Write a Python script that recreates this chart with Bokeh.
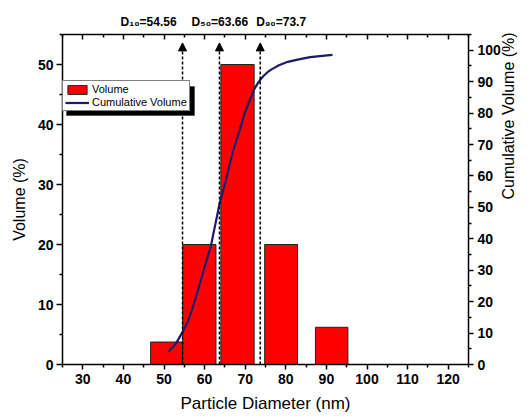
import math
from bokeh.plotting import figure
from bokeh.layouts import column
from bokeh.models import (Range1d, LinearAxis, FixedTicker, ColumnDataSource, Arrow,
                          NormalHead, Legend, LegendItem, BoxAnnotation)
from bokeh.core.properties import value
from bokeh.embed import file_html
from bokeh.resources import INLINE

# ---- data ----
diameter_lo = [46.7, 54.6, 64.0, 74.8, 87.3]
diameter_hi = [54.6, 62.8, 72.2, 82.9, 95.3]
volume = [3.75, 20.0, 50.0, 20.0, 6.2]

cum_x = [51, 52, 53, 54.56, 56, 58, 60, 61.6, 63.66, 65.5, 67, 68.5, 70, 72.2, 73.0,
         73.7, 74.5, 75.5, 76.5, 78.3, 80.5, 83.2, 86, 89, 91.5]
cum_y = [4, 5.3, 6.8, 10.3, 14, 22, 31, 38, 51, 60, 68, 74, 80.5, 87.5, 89.3,
         90.6, 91.8, 93.0, 93.9, 95.2, 96.3, 97.1, 97.8, 98.2, 98.5]

d_names = ["D\u2081\u2080=54.56", "D\u2085\u2080=63.66", "D\u2089\u2080=73.7"]
d_values = [54.56, 63.66, 73.7]

x_ticks = [30, 40, 50, 60, 70, 80, 90, 100, 110, 120]
y_ticks = [0, 10, 20, 30, 40, 50]
cum_ticks = [0, 10, 20, 30, 40, 50, 60, 70, 80, 90, 100]

FONT = "Liberation Sans"
X0, X1 = 25, 125
Y0, Y1 = 0, 55
C0, C1 = 0, 105
BL, BR = 62, 57          # left / right borders shared by both figures

# ---- strip above the plot holding the D-value labels ----
ptop = figure(width=528, height=30, output_backend="svg", toolbar_location=None,
              x_range=Range1d(X0, X1), y_range=Range1d(0, 30),
              min_border_left=BL, min_border_right=BR, min_border_top=0, min_border_bottom=0,
              x_axis_location=None, y_axis_location=None)
ptop.xgrid.visible = False
ptop.ygrid.visible = False
ptop.outline_line_color = None
lab_src = ColumnDataSource(dict(x=d_values, y=[9] * 3, text=d_names, dx=[-62, -28, -4]))
ptop.text(x="x", y="y", text="text", x_offset="dx", source=lab_src,
          text_font=value("Liberation Sans, Noto Sans"), text_font_size="12px",
          text_font_style="bold", text_color="black",
          text_baseline="middle", text_align="left")

# ---- main plot ----
p = figure(width=528, height=386, output_backend="svg", toolbar_location=None,
           x_range=ptop.x_range, y_range=Range1d(Y0, Y1),
           min_border_left=BL, min_border_right=BR, min_border_top=4, min_border_bottom=52,
           x_axis_location=None, y_axis_location=None)
p.extra_y_ranges = {"cum": Range1d(C0, C1)}
p.xgrid.visible = False
p.ygrid.visible = False
p.outline_line_color = None


def style_axis(ax):
    ax.axis_line_width = 1.5
    ax.axis_line_color = "black"
    ax.major_tick_line_width = 1.5
    ax.minor_tick_line_width = 1.5
    ax.major_tick_line_color = "black"
    ax.minor_tick_line_color = "black"
    ax.major_label_text_font = FONT
    ax.major_label_text_font_size = "14px"
    ax.major_label_text_font_style = "bold"
    ax.major_label_text_color = "black"
    ax.axis_label_text_font = FONT
    ax.axis_label_text_font_size = "16px"
    ax.axis_label_text_font_style = "normal"
    ax.axis_label_text_color = "black"


def minors(lo, hi):
    return [v for v in range(lo, hi + 1, 5) if v % 10 != 0]


bottom = LinearAxis(ticker=FixedTicker(ticks=x_ticks, minor_ticks=minors(X0, X1)),
                    axis_label="Particle Diameter (nm)")
style_axis(bottom)
bottom.major_tick_out = 5
bottom.major_tick_in = 0
bottom.minor_tick_out = 3
bottom.minor_tick_in = 0
bottom.major_label_standoff = 4
bottom.axis_label_standoff = 7
bottom.axis_label_text_font_size = "17px"
p.add_layout(bottom, "below")

top = LinearAxis(ticker=FixedTicker(ticks=x_ticks, minor_ticks=minors(X0, X1)))
style_axis(top)
top.major_tick_out = 0
top.major_tick_in = 5
top.minor_tick_out = 0
top.minor_tick_in = 3
top.major_label_text_font_size = "0px"
top.major_label_text_color = None
top.major_label_standoff = 0
p.add_layout(top, "above")

left = LinearAxis(ticker=FixedTicker(ticks=y_ticks, minor_ticks=minors(Y0, Y1)),
                  axis_label="Volume (%)")
style_axis(left)
left.major_tick_out = 6
left.major_tick_in = 0
left.minor_tick_out = 3
left.minor_tick_in = 0
left.major_label_standoff = 3
left.axis_label_standoff = 7
p.add_layout(left, "left")

right = LinearAxis(y_range_name="cum",
                   ticker=FixedTicker(ticks=cum_ticks, minor_ticks=minors(C0, C1)),
                   axis_label="Cumulative Volume (%)")
style_axis(right)
right.major_tick_out = 5
right.major_tick_in = 0
right.minor_tick_out = 3
right.minor_tick_in = 0
right.major_label_standoff = 4
right.axis_label_standoff = 5
right.axis_label_orientation = math.pi / 2
p.add_layout(right, "right")

# bars
bars = p.quad(left=diameter_lo, right=diameter_hi, bottom=0, top=volume,
              fill_color="#FF0000", line_color="#222222", line_width=1)

# D markers: dotted lines with arrow heads
dsrc = ColumnDataSource(dict(x=d_values, y0=[Y0] * 3, y1=[Y1 - 1.4] * 3))
p.add_layout(Arrow(source=dsrc, x_start="x", y_start="y0", x_end="x", y_end="y1",
                   line_color="black", line_width=1.5, line_dash="3 2",
                   end=NormalHead(size=8, fill_color="black", line_color="black", line_width=1)))

# cumulative curve
cum = p.line(cum_x, cum_y, y_range_name="cum", line_color="#1B1B6B", line_width=2.2)

# legend with a drop shadow (screen-unit box behind the legend)
LEG_X, LEG_Y, LEG_W, LEG_H, SHADOW = 0, 253, 128, 29, 4
p.add_layout(BoxAnnotation(left=LEG_X + SHADOW, right=LEG_X + SHADOW + LEG_W,
                           bottom=LEG_Y - SHADOW, top=LEG_Y - SHADOW + LEG_H,
                           left_units="screen", right_units="screen",
                           top_units="screen", bottom_units="screen",
                           fill_color="black", fill_alpha=1, line_color="black",
                           level="annotation"))

legend = Legend(items=[LegendItem(label="Volume", renderers=[bars]),
                       LegendItem(label="Cumulative Volume", renderers=[cum])],
                location=(LEG_X, LEG_Y))
legend.label_text_font = FONT
legend.label_text_font_size = "11px"
legend.label_text_color = "black"
legend.glyph_width = 24
legend.glyph_height = 11
legend.label_height = 11
legend.label_standoff = 3
legend.spacing = 1
legend.padding = 2
legend.margin = 0
legend.border_line_color = "black"
legend.border_line_width = 1
legend.background_fill_color = "white"
legend.background_fill_alpha = 1
p.add_layout(legend, "center")

layout = column(ptop, p, spacing=0)
open("out.html", "w").write(file_html(layout, INLINE))
